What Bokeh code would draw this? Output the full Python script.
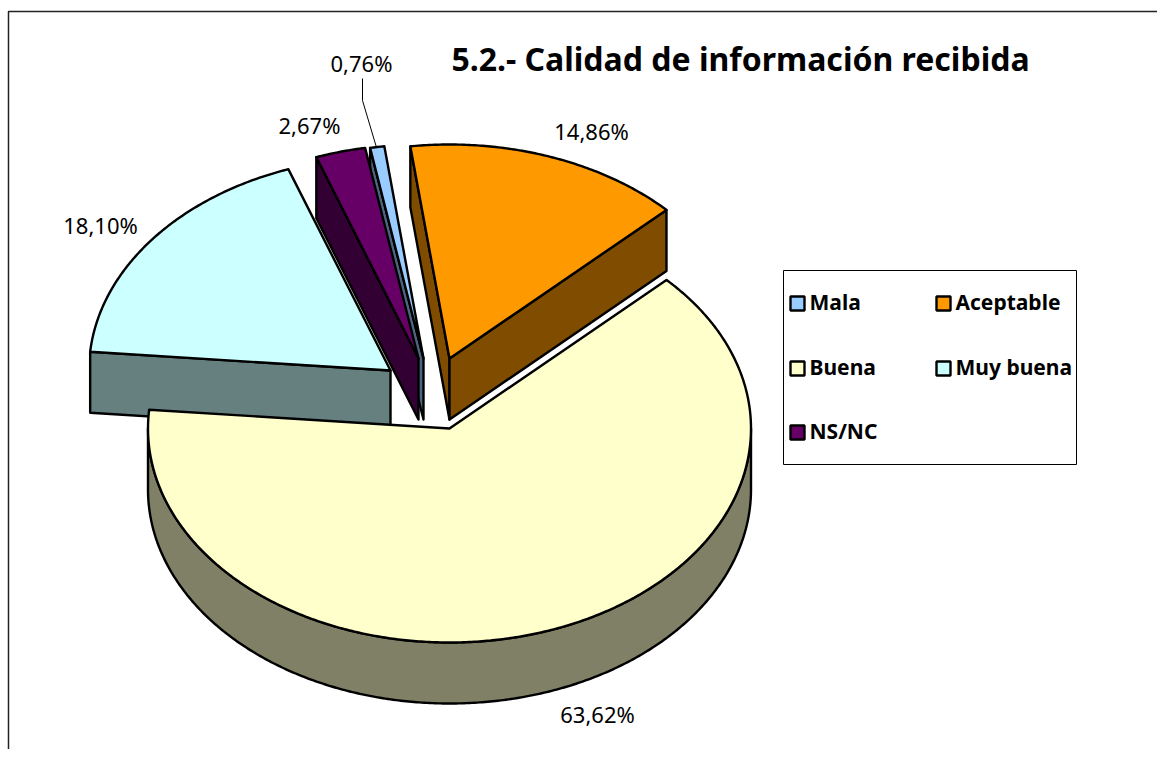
import numpy as np
from bokeh.plotting import figure
from bokeh.embed import file_html
from bokeh.resources import INLINE
from bokeh.core.properties import value

categories = ["Mala", "Aceptable", "Buena", "Muy buena", "NS/NC"]
values = [0.76, 14.86, 63.62, 18.10, 2.67]
labels = ["0,76%", "14,86%", "63,62%", "18,10%", "2,67%"]
top_colors = ["#99CCFF", "#FF9900", "#FFFFCC", "#CCFFFF", "#660066"]
wall_colors = ["#4D6680", "#804D00", "#808066", "#668080", "#330033"]
title_text = "5.2.- Calidad de información recibida"

W, H = 1157, 749
RX, RY, DEPTH = 301.5, 214.0, 61.0
first_angle = -10.2
apex = {"Mala": (423, 358), "Aceptable": (449, 358), "Buena": (449, 428),
        "Muy buena": (390, 370), "NS/NC": (418, 358)}
label_pos = {"Mala": (361, 62), "Aceptable": (591, 130), "Buena": (597, 713),
             "Muy buena": (100, 224), "NS/NC": (309, 124)}

p = figure(width=W, height=H, x_range=(0, W), y_range=(H, 0),
           toolbar_location=None, output_backend="svg", min_border=0,
           outline_line_color=None, background_fill_color="white", border_fill_color="white")
p.axis.visible = False
p.grid.visible = False

total = sum(values)
spans = {}
a = first_angle
for c, v in zip(categories, values):
    spans[c] = (a, a + v / total * 360)
    a += v / total * 360


def rim(c, a0, a1, dz=0.0):
    cx, cy = apex[c]
    t = np.radians(np.linspace(a0, a1, max(3, int(abs(a1 - a0) * 2))))
    return list(cx + RX * np.sin(t)), list(cy - RY * np.cos(t) + dz)


def draw(xs, ys, color):
    p.patch(xs, ys, fill_color=color, line_color="black", line_width=2.4, line_join="round")


def side_wall(c, ang, color):
    cx, cy = apex[c]
    x, y = rim(c, ang, ang)
    x, y = x[0], y[0]
    draw([cx, x, x, cx], [cy, y, y + DEPTH, cy + DEPTH], color)


col = dict(zip(categories, top_colors))
wall = dict(zip(categories, wall_colors))


def top(c):
    cx, cy = apex[c]
    x, y = rim(c, *spans[c])
    draw([cx] + x, [cy] + y, col[c])


side_wall("Muy buena", spans["Muy buena"][0], wall["Muy buena"])
top("Muy buena")
side_wall("Mala", spans["Mala"][0], wall["Mala"])
top("Mala")
side_wall("NS/NC", spans["NS/NC"][0], wall["NS/NC"])
top("NS/NC")
side_wall("Aceptable", spans["Aceptable"][0], wall["Aceptable"])
side_wall("Aceptable", spans["Aceptable"][1], wall["Aceptable"])
top("Aceptable")
xt, yt = rim("Buena", 90, 270)
xb, yb = rim("Buena", 270, 90, DEPTH)
draw(xt + xb, yt + yb, wall["Buena"])
top("Buena")

# leader line for the smallest slice
p.line([362, 362, 376], [78, 100, 147], line_color="black", line_width=1)

# frame
p.line([8, 8, W], [H, 11, 11], line_color="#222222", line_width=1.5)

FONT = value("Noto Sans")
for c, l in zip(categories, labels):
    x, y = label_pos[c]
    p.text([x], [y], text=[l], text_align="center", text_baseline="middle",
           text_font=FONT, text_font_size="22px", text_color="black")

p.text([740], [58], text=[title_text], text_align="center", text_baseline="middle",
       text_font=FONT, text_font_style="bold", text_font_size="32px", text_color="black")

p.quad(left=[783], right=[1076], top=[270], bottom=[464], fill_color="white", line_color="black", line_width=1)
leg_x = [790, 936, 790, 936, 790]
leg_y = [303, 303, 368, 368, 432]
for c, x, y in zip(categories, leg_x, leg_y):
    p.quad(left=[x], right=[x + 14], top=[y - 7], bottom=[y + 7], fill_color=col[c],
           line_color="black", line_width=2.4)
    p.text([x + 19], [y - 2], text=[c], text_align="left", text_baseline="middle",
           text_font=FONT, text_font_style="bold", text_font_size="21px", text_color="black")

open("out.html", "w").write(file_html(p, INLINE))
